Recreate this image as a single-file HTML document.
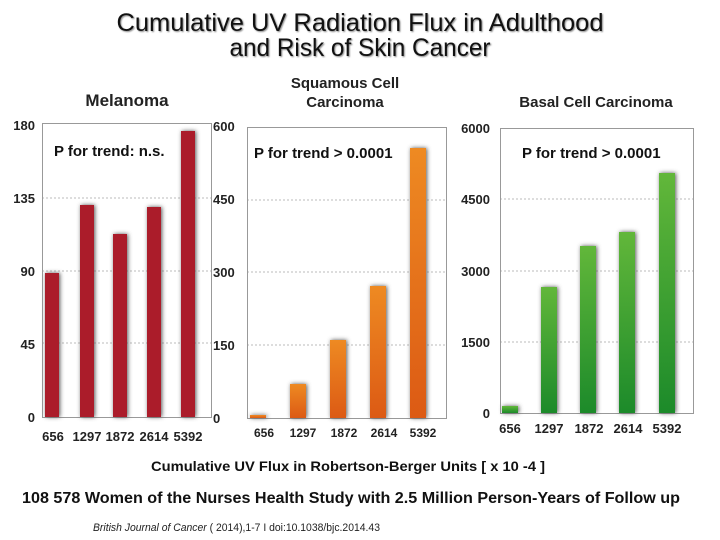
<!DOCTYPE html>
<html><head><meta charset="utf-8"><style>
html,body{margin:0;padding:0;background:#fff;}
svg{display:block;}
text{font-family:"Liberation Sans",sans-serif;}
</style></head><body>
<svg width="720" height="540" viewBox="0 0 720 540" xmlns="http://www.w3.org/2000/svg">
<defs>
<filter id="sh" x="-50%" y="-20%" width="200%" height="140%"><feGaussianBlur stdDeviation="2"/></filter>
<filter id="ts" x="-5%" y="-20%" width="110%" height="140%"><feGaussianBlur stdDeviation="0.8"/></filter>
<linearGradient id="og" x1="0" y1="0" x2="0" y2="1"><stop offset="0" stop-color="#ee8a22"/><stop offset="1" stop-color="#dc5a14"/></linearGradient>
<linearGradient id="gg" x1="0" y1="0" x2="0" y2="1"><stop offset="0" stop-color="#62b73a"/><stop offset="1" stop-color="#1c8a2a"/></linearGradient>
</defs>

<!-- Title -->
<g font-size="25" text-anchor="middle">
<text x="361" y="32" fill="#888" filter="url(#ts)" textLength="487" lengthAdjust="spacingAndGlyphs">Cumulative UV Radiation Flux in Adulthood</text>
<text x="360" y="31" fill="#111" textLength="487" lengthAdjust="spacingAndGlyphs">Cumulative UV Radiation Flux in Adulthood</text>
<text x="361" y="57" fill="#888" filter="url(#ts)" textLength="261" lengthAdjust="spacingAndGlyphs">and Risk of Skin Cancer</text>
<text x="360" y="56" fill="#111" textLength="261" lengthAdjust="spacingAndGlyphs">and Risk of Skin Cancer</text>
</g>

<!-- Melanoma -->
<text x="127" y="106" font-size="17" font-weight="bold" text-anchor="middle" fill="#222">Melanoma</text>
<g stroke="#bbb" stroke-width="1" stroke-dasharray="2,2">
<line x1="42" y1="198" x2="211" y2="198"/><line x1="42" y1="271" x2="211" y2="271"/><line x1="42" y1="343" x2="211" y2="343"/>
</g>
<rect x="42.5" y="123.5" width="169" height="294" fill="none" stroke="#999"/>
<g font-size="13" font-weight="bold" fill="#222" text-anchor="end">
<text x="35" y="130">180</text><text x="35" y="203">135</text><text x="35" y="276">90</text><text x="35" y="349">45</text><text x="35" y="422">0</text>
</g>
<g font-size="13" font-weight="bold" fill="#222">
<text x="213" y="131">600</text><text x="213" y="204">450</text><text x="213" y="277">300</text><text x="213" y="350">150</text><text x="213" y="423">0</text>
</g>
<g fill="#555" filter="url(#sh)">
<rect x="46" y="273" width="14" height="144"/><rect x="81" y="205" width="14" height="212"/><rect x="114" y="234" width="14" height="183"/><rect x="148" y="207" width="14" height="210"/><rect x="182" y="131" width="14" height="286"/>
</g>
<g fill="#ab1c2a">
<rect x="45" y="273" width="14" height="144"/><rect x="80" y="205" width="14" height="212"/><rect x="113" y="234" width="14" height="183"/><rect x="147" y="207" width="14" height="210"/><rect x="181" y="131" width="14" height="286"/>
</g>
<g font-size="13" font-weight="bold" fill="#222" text-anchor="middle">
<text x="53" y="441">656</text><text x="87" y="441">1297</text><text x="120" y="441">1872</text><text x="154" y="441">2614</text><text x="188" y="441">5392</text>
</g>
<text x="54" y="156" font-size="15" font-weight="bold" fill="#111">P for trend: n.s.</text>

<!-- SCC -->
<text x="345" y="88" font-size="15" font-weight="bold" text-anchor="middle" fill="#222">Squamous Cell</text>
<text x="345" y="107" font-size="15" font-weight="bold" text-anchor="middle" fill="#222">Carcinoma</text>
<g stroke="#bbb" stroke-width="1" stroke-dasharray="2,2">
<line x1="247" y1="200" x2="446" y2="200"/><line x1="247" y1="272" x2="446" y2="272"/><line x1="247" y1="345" x2="446" y2="345"/>
</g>
<rect x="247.5" y="127.5" width="199" height="291" fill="none" stroke="#999"/>
<g fill="#555" filter="url(#sh)">
<rect x="251" y="415" width="16" height="3"/><rect x="291" y="384" width="16" height="34"/><rect x="331" y="340" width="16" height="78"/><rect x="371" y="286" width="16" height="132"/><rect x="411" y="148" width="16" height="270"/>
</g>
<g fill="url(#og)">
<rect x="250" y="415" width="16" height="3"/><rect x="290" y="384" width="16" height="34"/><rect x="330" y="340" width="16" height="78"/><rect x="370" y="286" width="16" height="132"/><rect x="410" y="148" width="16" height="270"/>
</g>
<g font-size="12" font-weight="bold" fill="#222" text-anchor="middle">
<text x="264" y="437">656</text><text x="303" y="437">1297</text><text x="344" y="437">1872</text><text x="384" y="437">2614</text><text x="423" y="437">5392</text>
</g>
<text x="254" y="158" font-size="15" font-weight="bold" fill="#111">P for trend &gt; 0.0001</text>

<!-- BCC -->
<text x="596" y="107" font-size="15" font-weight="bold" text-anchor="middle" fill="#222">Basal Cell Carcinoma</text>
<g stroke="#bbb" stroke-width="1" stroke-dasharray="2,2">
<line x1="500" y1="199" x2="693" y2="199"/><line x1="500" y1="271" x2="693" y2="271"/><line x1="500" y1="342" x2="693" y2="342"/>
</g>
<rect x="500.5" y="128.5" width="193" height="285" fill="none" stroke="#999"/>
<g font-size="13" font-weight="bold" fill="#222" text-anchor="end">
<text x="490" y="133">6000</text><text x="490" y="204">4500</text><text x="490" y="276">3000</text><text x="490" y="347">1500</text><text x="490" y="418">0</text>
</g>
<g fill="#555" filter="url(#sh)">
<rect x="503" y="406" width="16" height="7"/><rect x="542" y="287" width="16" height="126"/><rect x="581" y="246" width="16" height="167"/><rect x="620" y="232" width="16" height="181"/><rect x="660" y="173" width="16" height="240"/>
</g>
<g fill="url(#gg)">
<rect x="502" y="406" width="16" height="7"/><rect x="541" y="287" width="16" height="126"/><rect x="580" y="246" width="16" height="167"/><rect x="619" y="232" width="16" height="181"/><rect x="659" y="173" width="16" height="240"/>
</g>
<g font-size="13" font-weight="bold" fill="#222" text-anchor="middle">
<text x="510" y="433">656</text><text x="549" y="433">1297</text><text x="589" y="433">1872</text><text x="628" y="433">2614</text><text x="667" y="433">5392</text>
</g>
<text x="522" y="158" font-size="15" font-weight="bold" fill="#111">P for trend &gt; 0.0001</text>

<!-- Footer -->
<text x="151" y="471" font-size="14" font-weight="bold" fill="#111" textLength="394" lengthAdjust="spacingAndGlyphs">Cumulative UV Flux in Robertson-Berger Units [ x 10 -4 ]</text>
<text x="22" y="503" font-size="16" font-weight="bold" fill="#111" textLength="658" lengthAdjust="spacingAndGlyphs">108 578 Women of the Nurses Health Study with  2.5 Million Person-Years of Follow up</text>
<text x="93" y="531" font-size="11" fill="#222" textLength="287" lengthAdjust="spacingAndGlyphs"><tspan font-style="italic">British Journal of Cancer</tspan> ( 2014),1-7 I doi:10.1038/bjc.2014.43</text>
</svg>
</body></html>
